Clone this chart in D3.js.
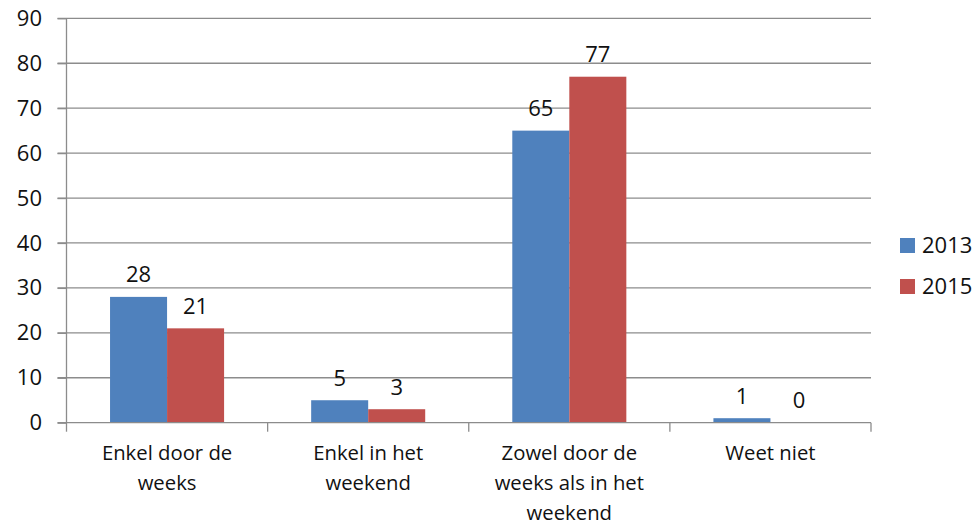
<!DOCTYPE html>
<html><head><meta charset="utf-8">
<script src="https://cdn.jsdelivr.net/npm/d3@7"></script>
<style>body{margin:0;background:#fff}svg{display:block}text{font-family:"Open Sans",sans-serif;fill:#111}</style>
</head><body><svg id="c" width="977" height="522"></svg>
<script>
const categories = ["Enkel door de weeks","Enkel in het weekend","Zowel door de weeks als in het weekend","Weet niet"];
const categoryLines = [["Enkel door de","weeks"],["Enkel in het","weekend"],["Zowel door de","weeks als in het","weekend"],["Weet niet"]];
const series = ["2013","2015"];
const values2013 = [28,5,65,1];
const values2015 = [21,3,77,0];
const yTicks = [0,10,20,30,40,50,60,70,80,90];
const colors = ["#4F81BD","#C0504D"];
const valuesBySeries = [values2013, values2015];

(function(){
const svg = d3.select("#c");
const pl = 66.5, pr = 871, pt = 18.3, pb = 422.7;
const y = d3.scaleLinear().domain([0,90]).range([pb, pt]);
const x0 = d3.scaleBand().domain(categories).range([pl, pr]).padding(0);
const gap = x0.bandwidth()*0.2165;
const x1 = d3.scaleBand().domain(series).range([gap, x0.bandwidth()-gap]).padding(0);

svg.append("g").selectAll("line").data(yTicks.filter(d=>d>0)).join("line")
  .attr("x1", pl-9).attr("x2", pr).attr("y1", d=>y(d)).attr("y2", d=>y(d))
  .attr("stroke","#8c8c8c").attr("stroke-width",1.3);

const g = svg.append("g");
series.forEach((s,si)=>{
  g.selectAll(".b"+si).data(categories).join("rect").attr("class","b"+si)
    .attr("x", c=>x0(c)+x1(s)).attr("width", x1.bandwidth())
    .attr("y", (c,i)=>y(valuesBySeries[si][i])).attr("height",(c,i)=>pb-y(valuesBySeries[si][i]))
    .attr("fill", colors[si]);
  g.selectAll(".l"+si).data(categories).join("text").attr("class","l"+si)
    .attr("x", c=>x0(c)+x1(s)+x1.bandwidth()/2)
    .attr("y", (c,i)=>y(valuesBySeries[si][i])-14.5)
    .attr("text-anchor","middle").attr("font-size",22)
    .text((c,i)=>valuesBySeries[si][i]);
});

const yAxis = d3.axisLeft(y).tickValues(yTicks).tickSize(9).tickPadding(15.5);
const ya = svg.append("g").attr("transform",`translate(${pl},0)`).call(yAxis);
ya.select(".domain").attr("stroke","#8c8c8c").attr("stroke-width",1.3).attr("d",`M0,${pt}V${pb}`);
ya.selectAll(".tick line").attr("stroke","#8c8c8c").attr("stroke-width",1.3);
ya.selectAll(".tick text").attr("font-size",22).attr("fill","#111").style("font-family","'Open Sans',sans-serif");

const xa = svg.append("g").attr("transform",`translate(0,${pb})`);
xa.append("line").attr("x1",pl-9).attr("x2",pr).attr("y1",0).attr("y2",0).attr("stroke","#8c8c8c").attr("stroke-width",1.3);
const bounds = categories.map(c=>x0(c)).concat([pr]);
xa.selectAll(".xt").data(bounds).join("line").attr("class","xt").attr("x1",d=>d).attr("x2",d=>d).attr("y1",0).attr("y2",9)
  .attr("stroke","#8c8c8c").attr("stroke-width",1.3);
categories.forEach((c,i)=>{
  const t = xa.append("text").attr("text-anchor","middle").attr("font-size",20.3)
    .attr("x", x0(c)+x0.bandwidth()/2);
  categoryLines[i].forEach((ln,j)=>{
    t.append("tspan").attr("x", x0(c)+x0.bandwidth()/2).attr("y", 37.5+j*29.8).text(ln);
  });
});

const lg = svg.append("g");
series.forEach((s,i)=>{
  lg.append("rect").attr("x",900).attr("y",238+i*41).attr("width",15).attr("height",15).attr("fill",colors[i]);
  lg.append("text").attr("x",922).attr("y",253+i*41).attr("font-size",22).text(s);
});
})();
</script></body></html>
